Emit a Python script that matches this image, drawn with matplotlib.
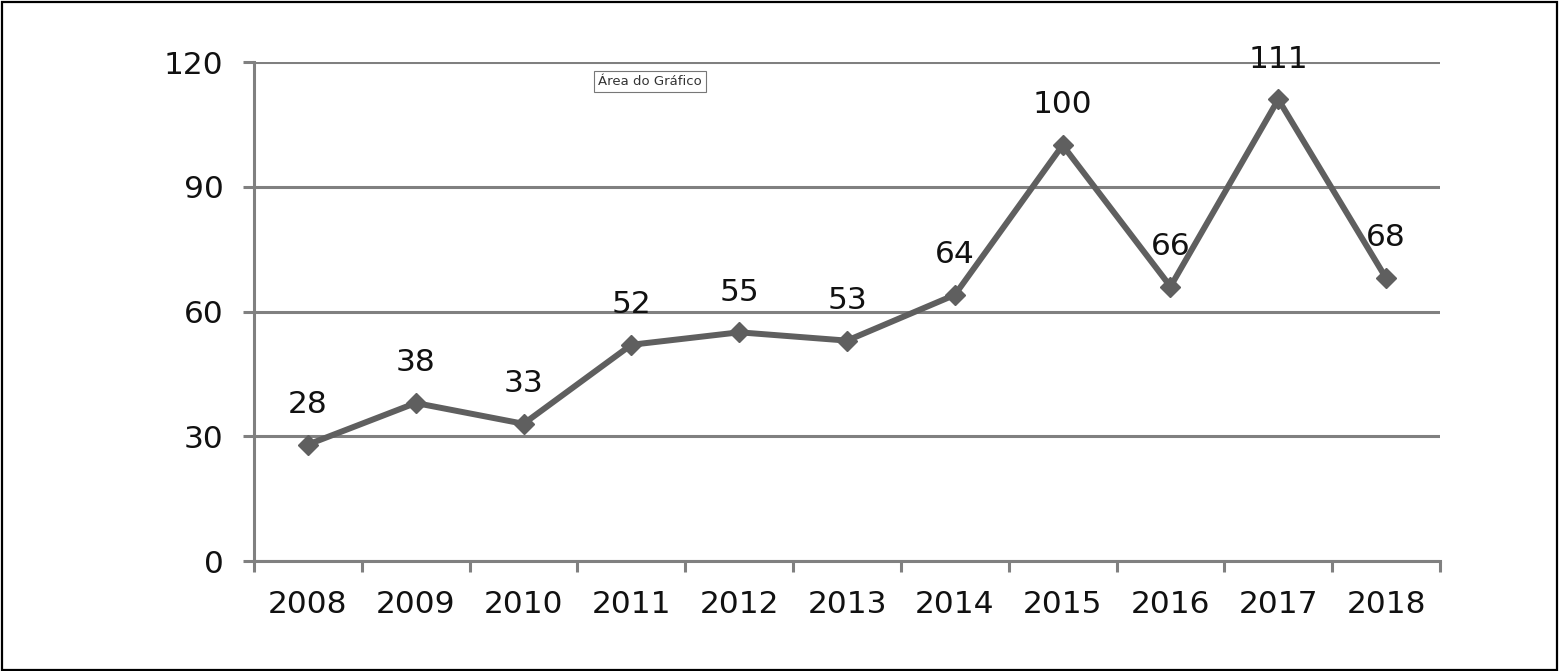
import matplotlib.pyplot as plt
import numpy as np
from matplotlib.patches import Rectangle

years = ['2008', '2009', '2010', '2011', '2012', '2013', '2014', '2015', '2016', '2017', '2018']
values = [28, 38, 33, 52, 55, 53, 64, 100, 66, 111, 68]
y_ticks = [0, 30, 60, 90, 120]

grid_color = '#808080'
line_color = '#5f5f5f'

fig = plt.figure(figsize=(15.6, 6.71), dpi=100)
ax = fig.add_axes([0.1628, 0.1639, 0.7603, 0.7437])

x = np.arange(len(years)) + 0.5
ax.plot(x, values, color=line_color, lw=4.3, marker='D', ms=10,
        mfc=line_color, mec=line_color, zorder=4, clip_on=False)

for xi, v in zip(x, values):
    ax.annotate(str(v), (xi, v), xytext=(0, 29), textcoords='offset points',
                ha='center', va='center', fontsize=22.5, color='#111111', zorder=5)

ax.set_xlim(0, len(years))
ax.set_ylim(0, 120)
ax.set_yticks(y_ticks)
ax.set_yticklabels([str(t) for t in y_ticks], fontsize=22.5, color='#111111')
ax.yaxis.grid(True, color=grid_color, lw=2.2)
ax.set_axisbelow(True)

# category boundaries get the tick marks, the labels sit between them
ax.set_xticks(np.arange(len(years) + 1))
ax.set_xticklabels([])
ax.set_xticks(x, minor=True)
ax.set_xticklabels(years, minor=True, fontsize=22.5, color='#111111')
ax.tick_params(axis='x', which='major', length=8, width=2.2, color=grid_color, direction='out')
ax.tick_params(axis='x', which='minor', length=0, pad=21)
ax.tick_params(axis='y', length=8, width=2.2, color=grid_color, pad=14)

for s in ['top', 'right']:
    ax.spines[s].set_visible(False)
for s in ['left', 'bottom']:
    ax.spines[s].set_color(grid_color)
    ax.spines[s].set_linewidth(2.2)

# Excel's hover hint
fig.text(0.4167, 0.878, 'Área do Gráfico', fontsize=9.5, color='#333333',
         ha='center', va='center',
         bbox=dict(boxstyle='square,pad=0.3', fc='white', ec='#777777', lw=0.8))

# outer frame
fig.patches.append(Rectangle((0.001, 0.002), 0.997, 0.995, transform=fig.transFigure,
                             fill=False, ec='black', lw=1.6))

fig.savefig('out.png', dpi=100)
